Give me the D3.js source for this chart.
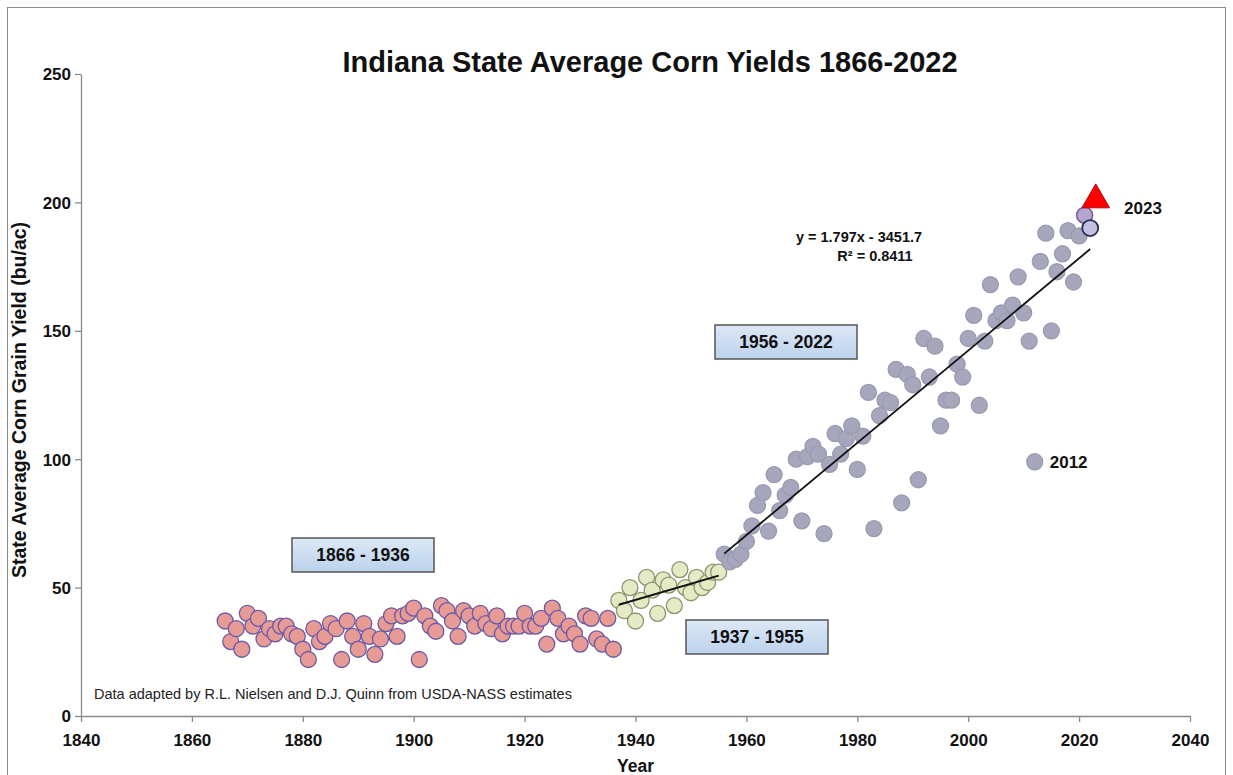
<!DOCTYPE html>
<html>
<head>
<meta charset="utf-8">
<script src="https://cdn.jsdelivr.net/npm/d3@7"></script>
<style>
  body { margin: 0; background: #fff; }
  svg { font-family: "Liberation Sans", Arial, sans-serif; }
</style>
</head>
<body>
<svg id="chart" width="1233" height="775"></svg>
<script>
// Indiana average corn yield (bu/ac)
const earlyStart = 1866;
const earlyYield = [
  37, 29, 34, 26, 40, 35, 38, 30, 34, 32,
  35, 35, 32, 31, 26, 22, 34, 29, 31, 36,
  34, 22, 37, 31, 26, 36, 31, 24, 30, 36,
  39, 31, 39, 40, 42, 22, 39, 35, 33, 43,
  41, 37, 31, 41, 39, 35, 40, 36, 34, 39,
  32, 35, 35, 35, 40, 35, 35, 38, 28, 42,
  38, 32, 35, 32, 28, 39, 38, 30, 28, 38, 26
];
const midStart = 1937;
const midYield = [45, 41, 50, 37, 45, 54, 49, 40, 53, 51, 43, 57, 50, 48, 54, 50, 52, 56, 56];
const lateStart = 1956;
const lateYield = [
  63, 60, 61, 63, 68, 74, 82, 87, 72, 94,
  80, 86, 89, 100, 76, 101, 105, 102, 71, 98,
  110, 102, 108, 113, 96, 109, 126, 73, 117, 123,
  122, 135, 83, 133, 129, 92, 147, 132, 144, 113,
  123, 123, 137, 132, 147, 156, 121, 146, 168, 154,
  157, 154, 160, 171, 157, 146, 99, 177, 188, 150,
  173, 180, 189, 169, 187, 195, 190
];
const forecast = { year: 2023, yield: 201 };
const lateFit = { slope: 1.797, intercept: -3451.7, r2: 0.8411 };

const xTicks = [1840, 1860, 1880, 1900, 1920, 1940, 1960, 1980, 2000, 2020, 2040];
const yTicks = [0, 50, 100, 150, 200, 250];

const toPoints = (start, vals) => vals.map((v, i) => ({ year: start + i, yield: v }));
const early = toPoints(earlyStart, earlyYield);
const mid = toPoints(midStart, midYield);
const late = toPoints(lateStart, lateYield);

const svg = d3.select('#chart');

// outer frame
svg.append('rect')
  .attr('x', 7.5).attr('y', 7.5).attr('width', 1218).attr('height', 800)
  .attr('fill', '#fff').attr('stroke', '#8c8c8c').attr('stroke-width', 1);

const x = d3.scaleLinear().domain([1840, 2040]).range([81, 1190]);
const y = d3.scaleLinear().domain([0, 250]).range([716, 74]);

// axes
const xAxis = svg.append('g')
  .attr('transform', `translate(0,${y(0)})`)
  .call(d3.axisBottom(x).tickValues(xTicks).tickFormat(d3.format('d')).tickSizeInner(6).tickSizeOuter(0));
const yAxis = svg.append('g')
  .attr('transform', `translate(${x(1840)},0)`)
  .call(d3.axisLeft(y).tickValues(yTicks).tickSizeInner(6).tickSizeOuter(0));

[xAxis, yAxis].forEach(g => {
  g.select('.domain').attr('stroke', '#8a8a8a').attr('stroke-width', 1.3);
  g.selectAll('.tick line').attr('stroke', '#8a8a8a').attr('stroke-width', 1.3);
  g.selectAll('.tick text')
    .attr('fill', '#111')
    .style('font-size', '17px')
    .style('font-weight', 'bold')
    .style('font-family', '"Liberation Sans", Arial, sans-serif');
});
xAxis.selectAll('.tick text').attr('dy', '1.25em');
yAxis.selectAll('.tick text').attr('x', -10).attr('dy', '0.35em');

// titles
svg.append('text')
  .attr('x', 650).attr('y', 72)
  .attr('text-anchor', 'middle')
  .style('font-size', '29px').style('font-weight', 'bold')
  .attr('fill', '#111')
  .text('Indiana State Average Corn Yields 1866-2022');

svg.append('text')
  .attr('x', (x(1840) + x(2040)) / 2).attr('y', 772)
  .attr('text-anchor', 'middle')
  .style('font-size', '17.5px').style('font-weight', 'bold')
  .attr('fill', '#111')
  .text('Year');

svg.append('text')
  .attr('transform', `translate(26,${(y(0) + y(250)) / 2 + 5}) rotate(-90)`)
  .attr('text-anchor', 'middle')
  .style('font-size', '19.5px').style('font-weight', 'bold')
  .attr('fill', '#111')
  .text('State Average Corn Grain Yield (bu/ac)');

svg.append('text')
  .attr('x', 94).attr('y', 699)
  .style('font-size', '14.5px')
  .attr('fill', '#222')
  .text('Data adapted by R.L. Nielsen and D.J. Quinn from USDA-NASS estimates');

// period labels in boxes
const boxes = [
  { label: '1866 - 1936', x: 292, y: 538 },
  { label: '1956 - 2022', x: 715, y: 325 },
  { label: '1937 - 1955', x: 686, y: 620 }
];
const grad = svg.append('defs').append('linearGradient')
  .attr('id', 'boxfill').attr('x1', 0).attr('y1', 0).attr('x2', 0).attr('y2', 1);
grad.append('stop').attr('offset', '0%').attr('stop-color', '#dce8f6');
grad.append('stop').attr('offset', '100%').attr('stop-color', '#bcd2ec');

const boxG = svg.append('g');
boxes.forEach(b => {
  boxG.append('rect')
    .attr('x', b.x).attr('y', b.y).attr('width', 142).attr('height', 34)
    .attr('fill', 'url(#boxfill)').attr('stroke', '#555').attr('stroke-width', 1.5);
  boxG.append('text')
    .attr('x', b.x + 71).attr('y', b.y + 23)
    .attr('text-anchor', 'middle')
    .style('font-size', '17.5px').style('font-weight', 'bold')
    .attr('fill', '#111')
    .text(b.label);
});

// dots
function dots(data, fill, stroke) {
  svg.append('g').selectAll('circle')
    .data(data)
    .join('circle')
    .attr('cx', d => x(d.year))
    .attr('cy', d => y(d.yield))
    .attr('r', 8)
    .attr('fill', fill)
    .attr('stroke', stroke)
    .attr('stroke-width', 1.3);
}
dots(early, '#e89a94', '#6a5aa8');
dots(mid, '#e4eac4', '#8c9470');
dots(late.filter(d => d.year < 2021), '#a6a6bc', '#9a9ab0');

// highlighted recent years
svg.append('circle')
  .attr('cx', x(2021)).attr('cy', y(lateYield[2021 - lateStart])).attr('r', 8)
  .attr('fill', '#b4a6cc').attr('stroke', '#7a5a9a').attr('stroke-width', 1.5);
svg.append('circle')
  .attr('cx', x(2022)).attr('cy', y(lateYield[2022 - lateStart])).attr('r', 8)
  .attr('fill', '#c4c0e0').attr('stroke', '#2c2c5c').attr('stroke-width', 1.8);

// trend lines: mid period least squares, late period from the equation shown
const mx = d3.mean(mid, d => d.year), my = d3.mean(mid, d => d.yield);
const slopeMid = d3.sum(mid, d => (d.year - mx) * (d.yield - my)) / d3.sum(mid, d => (d.year - mx) ** 2);
const fitMid = yr => my + slopeMid * (yr - mx);

const line = d3.line().x(d => x(d[0])).y(d => y(d[1]));
svg.append('path')
  .attr('d', line([[midStart, fitMid(midStart)], [1955, fitMid(1955)]]))
  .attr('stroke', '#111').attr('stroke-width', 2).attr('fill', 'none');
const fitLate = yr => lateFit.slope * yr + lateFit.intercept;
svg.append('path')
  .attr('d', line([[lateStart, fitLate(lateStart)], [2022, fitLate(2022)]]))
  .attr('stroke', '#111').attr('stroke-width', 1.8).attr('fill', 'none');

// 2023 marker
svg.append('path')
  .attr('d', d3.symbol().type(d3.symbolTriangle).size(330)())
  .attr('transform', `translate(${x(forecast.year)},${y(forecast.yield)})`)
  .attr('fill', '#ff0000').attr('stroke', '#b00000').attr('stroke-width', 1);

// annotations
const note = (tx, ty, t, size) => svg.append('text')
  .attr('x', tx).attr('y', ty)
  .attr('text-anchor', 'middle')
  .style('font-size', size + 'px').style('font-weight', 'bold')
  .attr('fill', '#111')
  .text(t);
note(859, 242, `y = ${lateFit.slope}x - ${Math.abs(lateFit.intercept)}`, 14.5);
note(875, 261, `R² = ${lateFit.r2}`, 14.5);
note(1143, 214, String(forecast.year), 17);
svg.append('text')
  .attr('x', x(2012) + 15).attr('y', y(lateYield[2012 - lateStart]) + 6)
  .style('font-size', '17px').style('font-weight', 'bold')
  .attr('fill', '#111')
  .text('2012');
</script>
</body>
</html>
